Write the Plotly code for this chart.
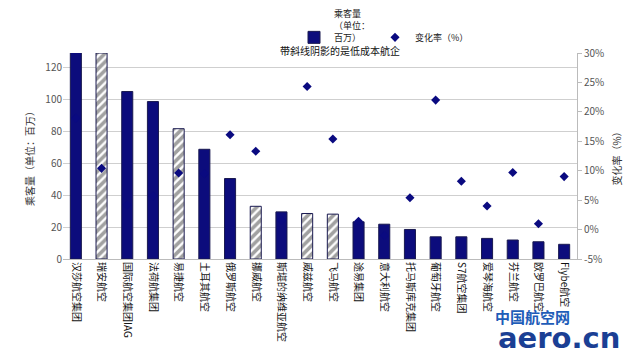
import plotly.graph_objects as go

categories = ["汉莎航空集团", "瑞安航空", "国际航空集团IAG", "法荷航集团", "易捷航空",
              "土耳其航空", "俄罗斯航空", "挪威航空", "斯堪的纳维亚航空", "威兹航空",
              "飞马航空", "途易集团", "意大利航空", "托马斯库克集团", "葡萄牙航空",
              "S7航空集团", "爱琴海航空", "芬兰航空", "欧罗巴航空", "Flybe航空"]
passengers = [130, 129, 104.9, 98.6, 81.6, 68.7, 50.4, 33, 29.5, 28.5,
              28.1, 23.3, 21.8, 18.5, 13.9, 13.9, 12.9, 11.9, 10.8, 9.2]
change_pct = [18.9, 10.4, 4.2, 5.7, 9.6, 9.5, 16.1, 13.3, 1.6, 24.3,
              15.4, 1.4, -1.0, 5.4, 22.0, 8.2, 4.0, 9.7, 1.0, 9.0]
low_cost = [False, True, False, False, True, False, False, True, False, True,
            True, False, False, False, False, False, False, False, False, False]

NAVY = "#0c0c7c"
FONT = "Noto Sans CJK SC"

pattern_shapes = ["/" if lc else "" for lc in low_cost]
bar_colors = ["#ffffff" if lc else NAVY for lc in low_cost]

fig = go.Figure()
fig.add_trace(go.Bar(
    x=categories, y=passengers, name="乘客量<br>（单位：<br>百万）",
    width=0.43,
    marker=dict(color=bar_colors, line=dict(color="#1a1a50", width=1),
                pattern=dict(shape=pattern_shapes, fgcolor="#15153a", bgcolor="#ffffff",
                             size=6, solidity=0.6)),
    yaxis="y",
))
fig.add_trace(go.Scatter(
    x=categories, y=change_pct, name=" <br> <br>变化率（%）", mode="markers",
    marker=dict(symbol="diamond", size=7, color="#0a0a80"),
    yaxis="y2",
))

# page body adds an offset of OFF px; target screen positions below
OFF = 8
W, H = 640, 356
S_LEFT, S_RIGHT, S_TOP, S_BOTTOM = 63, 577, 52.5, 259   # plot area on screen
pl = S_LEFT - OFF
pr = W - (S_RIGHT - OFF)
pt = S_TOP - OFF
pb = H - (S_BOTTOM - OFF)

def px(xs):
    return (xs - S_LEFT) / (S_RIGHT - S_LEFT)
def py(ys):
    return (S_BOTTOM - ys) / (S_BOTTOM - S_TOP)

fig.update_layout(
    width=W, height=H,
    margin=dict(l=pl, r=pr, t=pt, b=pb, autoexpand=False),
    paper_bgcolor="white", plot_bgcolor="white",
    font=dict(family=FONT, size=10, color="#333333"),
    showlegend=True,
    legend=dict(orientation="h", x=px(294), xanchor="left", y=py(1), yanchor="top",
                font=dict(size=9, color="#222222"),
                valign="bottom", bgcolor="rgba(0,0,0,0)",
                tracegroupgap=0),
    xaxis=dict(type="category", range=[-0.5, len(categories) - 0.5], tickangle=90,
               showgrid=False, showline=True, linecolor="#bbbbbb", linewidth=1,
               ticks="", tickfont=dict(size=10, color="#111111")),
    yaxis=dict(range=[0, 129], tickvals=[0, 20, 40, 60, 80, 100, 120],
               showgrid=True, gridcolor="#cfcfcf", gridwidth=1,
               zeroline=False, showline=False,
               tickfont=dict(size=10, color="#555555"),
               title=dict(text="乘客量（单位：百万）", font=dict(size=10, color="#333333"), standoff=8)),
    yaxis2=dict(range=[-5, 30], tickvals=[-5, 0, 5, 10, 15, 20, 25, 30],
                ticktext=["-5%", "0%", "5%", "10%", "15%", "20%", "25%", "30%"],
                overlaying="y", side="right", showgrid=False, zeroline=False,
                showline=True, linecolor="#bbbbbb", ticks="outside", ticklen=4,
                tickcolor="#bbbbbb",
                tickfont=dict(size=10, color="#555555"),
                title=dict(text="变化率（%）", font=dict(size=10, color="#333333"), standoff=10)),
)

fig.add_annotation(text="带斜线阴影的是低成本航企", x=px(340), y=py(50), xref="paper", yref="paper",
                   xanchor="center", yanchor="middle", showarrow=False,
                   font=dict(size=10, color="#111111"))
fig.add_annotation(text="<b>中国航空网</b>", x=px(532), y=py(317), xref="paper", yref="paper",
                   xanchor="center", yanchor="middle", showarrow=False,
                   font=dict(size=15, color="#1e5db8", family=FONT))
fig.add_annotation(text="<b>aero.cn</b>", x=px(559), y=py(338), xref="paper", yref="paper",
                   xanchor="center", yanchor="middle", showarrow=False,
                   font=dict(size=29, color="#1b3f94", family="DejaVu Sans"))

fig.write_html("out.html")
